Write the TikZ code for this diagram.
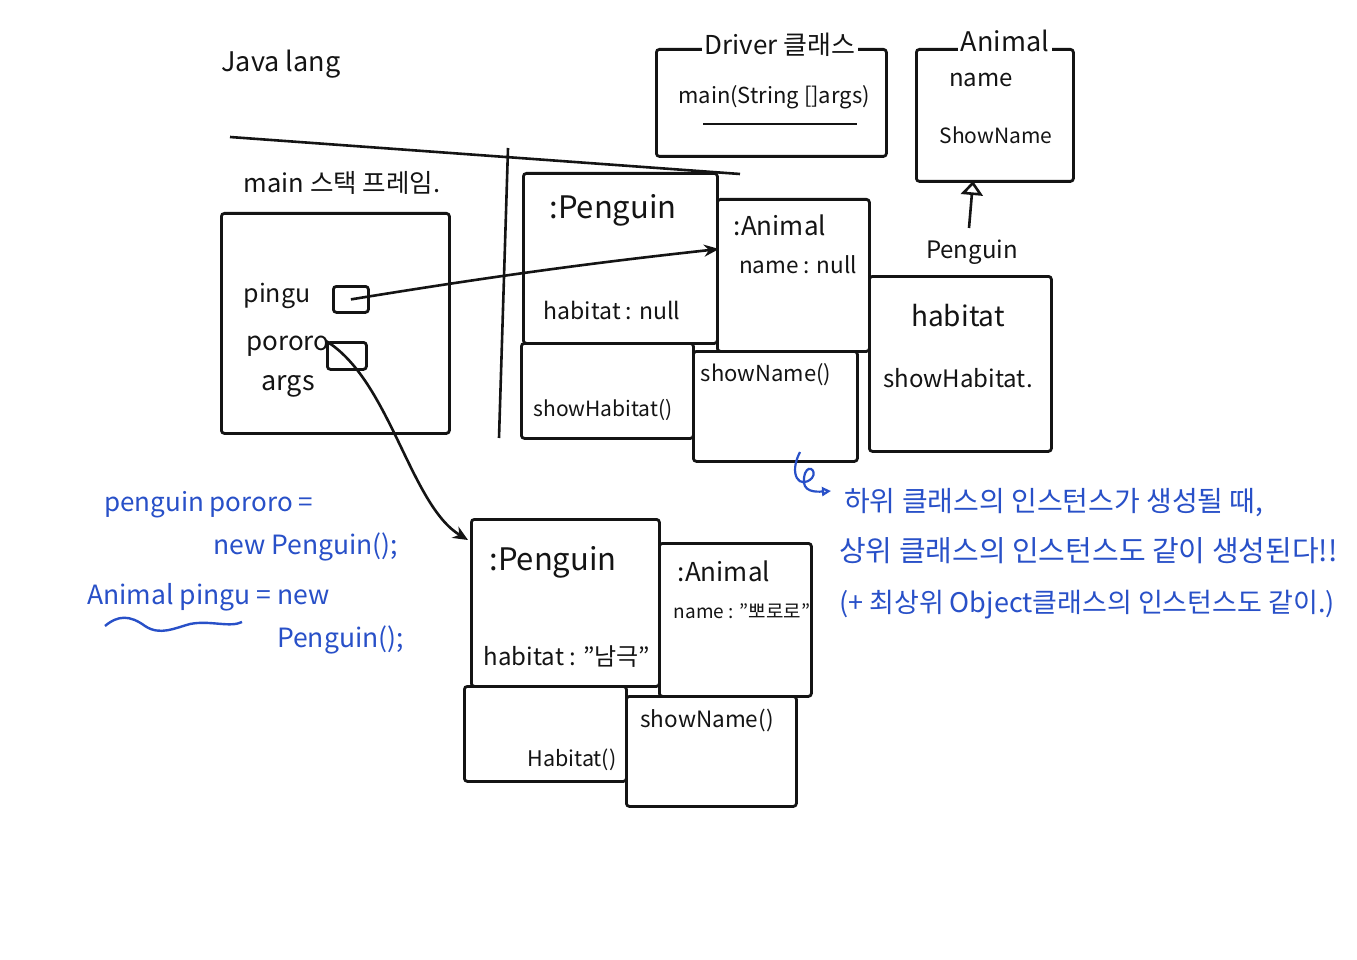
\documentclass[tikz,border=0pt]{standalone}
\usepackage{fontspec}
\setmainfont{Noto Sans CJK KR}
\usetikzlibrary{arrows.meta}
\definecolor{ink}{RGB}{20,20,20}
\definecolor{pen}{RGB}{40,80,200}
\tikzset{
  fs/.style={font=\fontsize{#1}{#1}\selectfont},
  hand/.style={text=ink, inner sep=1pt},
  note/.style={text=pen, inner sep=1pt, anchor=west},
  box/.style={draw=ink, line width=2.8pt, anchor=north west, inner sep=0pt, rounded corners=3pt},
  ttl/.style={text=ink, fill=white, inner sep=3pt},
  wire/.style={draw=ink, line width=2.6pt},
}
\begin{document}
\begin{tikzpicture}[x=1pt,y=-1pt]
\useasboundingbox[fill=white] (0,0) rectangle (1357,960);

% headings and separators
\node[hand, fs=27] (jl) at (281,64) {Java lang};
\coordinate (hl1) at (230,137);
\coordinate (hl2) at (740,174);
\draw[wire] (hl1) -- (hl2);
\coordinate (vl1) at (508,148);
\coordinate (vl2) at (499,438);
\draw[wire] (vl1) -- (vl2);

% method area: Driver class
\node[box, minimum width=230, minimum height=107] (drv) at (655,48) {};
\node[ttl, fs=26] (drvt) at (780,45) {Driver 클래스};
\node[hand, fs=22] (drvm) at (774,97) {main(String []args)};
\coordinate (ul1) at (703,124);
\coordinate (ul2) at (857,124);
\draw[wire] (ul1) -- (ul2);

% Animal class
\node[box, minimum width=157, minimum height=132] (acls) at (915,48) {};
\node[ttl, fs=27] (aclst) at (1005,41) {Animal};
\node[hand, fs=24] (acn) at (981,80) {name};
\node[hand, fs=21] (acs) at (996,135) {ShowName};

% Penguin class
\node[hand, fs=24] (pclt) at (972,252) {Penguin};
\node[box, minimum width=182, minimum height=175] (pcls) at (868,275) {};
\node[hand, fs=28] (pch) at (958,316) {habitat};
\node[hand, fs=24] (pcs) at (958,378) {showHabitat.};
\coordinate (inh) at (969,228);
\coordinate (inhtop) at (973,181);
\draw[wire, -{Triangle[open, length=14pt, width=22pt]}] (inh) -- (inhtop);

% main stack frame
\node[hand, fs=25.5] (sft) at (342,183) {main 스택 프레임.};
\node[box, minimum width=228, minimum height=220] (sf) at (220,212) {};
\node[hand, fs=25] (pingu) at (277,296) {pingu};
\node[box, minimum width=35, minimum height=26] (pb) at (332,285) {};
\node[hand, fs=26] (pororo) at (288,346) {pororo};
\node[box, minimum width=39, minimum height=27] (ob) at (326,341) {};
\node[hand, fs=27] (args) at (288,386) {args};

% heap object 1 (pingu)
\node[box, minimum width=194, minimum height=170] (h1p) at (522,172) {};
\node[box, minimum width=152, minimum height=152] (h1a) at (716,198) {};
\node[box, minimum width=172, minimum height=95] (h1b) at (520,342) {};
\node[box, minimum width=164, minimum height=110] (h1c) at (692,350) {};
\node[hand, fs=31] at (613,210) {:Penguin};
\node[hand, fs=23] at (612,310) {habitat : null};
\node[hand, fs=26] at (780,225) {:Animal};
\node[hand, fs=22.5] at (798,265) {name : null};
\node[hand, fs=22] at (766,375) {showName()};
\node[hand, fs=21] at (603,410) {showHabitat()};
\coordinate (h1in) at (719,249);

% heap object 2 (pororo)
\node[box, minimum width=188, minimum height=167] (h2p) at (470,518) {};
\node[box, minimum width=152, minimum height=153] (h2a) at (658,542) {};
\node[box, minimum width=162, minimum height=95] (h2b) at (463,685) {};
\node[box, minimum width=170, minimum height=110] (h2c) at (625,695) {};
\node[hand, fs=31] at (553,562) {:Penguin};
\node[hand, fs=24] at (567,657) {habitat : "남극"};
\node[hand, fs=26] at (724,571) {:Animal};
\node[hand, fs=19] at (742,611) {name : "뽀로로"};
\node[hand, fs=22.5] at (707,720) {showName()};
\node[hand, fs=21.5] at (572,760) {Habitat()};
\coordinate (h2in) at (468,540);

% references
\draw[wire, -{Stealth[length=15pt, width=12pt]}] (pb.center) .. controls (500,275) and (600,262) .. (h1in);
\draw[wire, -{Stealth[length=15pt, width=13pt]}] (ob.north west) .. controls (390,380) and (410,505) .. (h2in);

% code notes
\node[note, fs=26] (c1) at (103,505) {penguin pororo =};
\node[note, fs=26.5] (c2) at (212,547) {new Penguin();};
\node[note, fs=26.5] (c3) at (86,597) {Animal pingu = new};
\node[note, fs=26.5] (c4) at (276,640) {Penguin();};
\coordinate (sq1) at (105,626);
\coordinate (sq2) at (242,622);
\draw[pen, line width=2.4pt] (sq1) .. controls (118,615) and (130,615) .. (145,626) .. controls (160,636) and (175,628) .. (190,624) .. controls (210,620) and (230,628) .. (sq2);

% explanation
\node[note, fs=28] (n1) at (843,503) {하위 클래스의 인스턴스가 생성될 때,};
\node[note, fs=29] (n2) at (838,551) {상위 클래스의 인스턴스도 같이 생성된다!!};
\node[note, fs=27] (n3) at (838,605) {(+ 최상위 Object클래스의 인스턴스도 같이.)};
\coordinate (cs) at (800,452);
\coordinate (ce) at (831,491);
\draw[pen, line width=2.2pt, -{Triangle[open, length=9pt, width=9pt]}] (cs) .. controls (788,475) and (800,490) .. (812,478) .. controls (818,470) and (806,462) .. (804,478) .. controls (802,492) and (815,492) .. (ce);
\end{tikzpicture}
\end{document}
